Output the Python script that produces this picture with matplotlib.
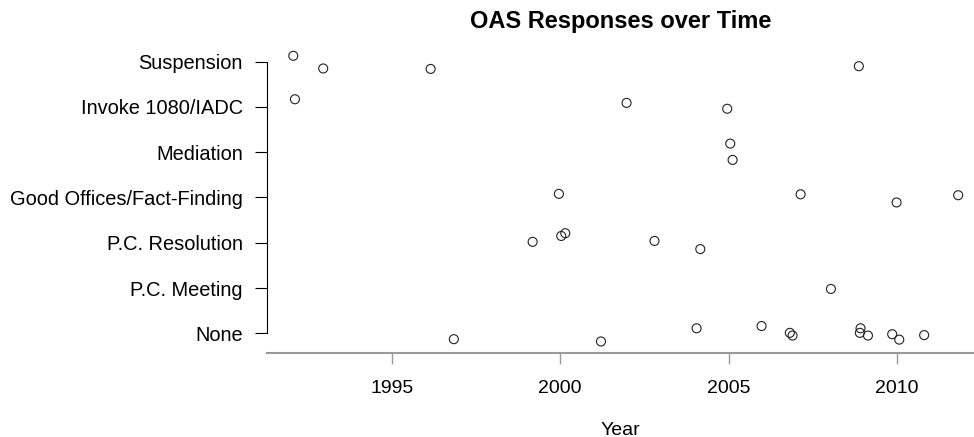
import matplotlib.pyplot as plt

plt.rcParams['font.family'] = ['Liberation Sans', 'DejaVu Sans']

# response categories, bottom to top
categories = ['None', 'P.C. Meeting', 'P.C. Resolution',
              'Good Offices/Fact-Finding', 'Mediation',
              'Invoke 1080/IADC', 'Suspension']

# one point per case: year and (jittered) response level
year = [1992.07, 1992.96, 1996.15, 2008.87,
        1992.12, 2001.97, 2004.96,
        2005.05, 2005.12,
        1999.96, 2007.14, 2009.99, 2011.82,
        1999.18, 2000.03, 2000.15, 2002.80, 2004.16,
        2008.04,
        1996.84, 2001.21, 2004.05, 2005.98, 2006.82, 2006.90,
        2008.92, 2008.90, 2009.14, 2009.86, 2010.07, 2010.81]
response = [7.13, 6.85, 6.84, 6.90,
            6.17, 6.09, 5.96,
            5.19, 4.83,
            4.08, 4.07, 3.89, 4.05,
            3.02, 3.15, 3.21, 3.04, 2.86,
            1.98,
            0.87, 0.82, 1.11, 1.16, 1.01, 0.95,
            1.11, 1.01, 0.95, 0.98, 0.86, 0.96]
year_ticks = [1995, 2000, 2005, 2010]

fig = plt.figure(figsize=(9.74, 4.37), dpi=100)
ax = fig.add_axes([267 / 974, (437 - 353.3) / 437, 1 - 267 / 974, (353.3 - 40.4) / 437])

ax.scatter(year, response, s=42, facecolors='none', edgecolors='#222222', linewidths=0.8)

ax.set_xlim(1991.29, 2012.29)
ax.set_ylim(0.558, 7.47)

ax.spines['top'].set_visible(False)
ax.spines['right'].set_visible(False)
ax.spines['left'].set_bounds(1, 7)
ax.spines['left'].set_linewidth(0.8)
ax.spines['bottom'].set_color('#9a9a9a')
ax.spines['bottom'].set_linewidth(1.5)

ax.set_yticks(range(1, len(categories) + 1))
ax.set_yticklabels(categories)
ax.set_xticks(year_ticks)

ax.tick_params(axis='y', length=9, width=0.8, pad=8.5, labelsize=14.4)
ax.tick_params(axis='x', length=8, width=1, color='#9a9a9a', pad=11, labelsize=14)

ax.set_xlabel('Year', fontsize=14, labelpad=18)
ax.set_title('OAS Responses over Time', fontsize=17, fontweight='bold', pad=9)

fig.savefig('out.png', dpi=100)
